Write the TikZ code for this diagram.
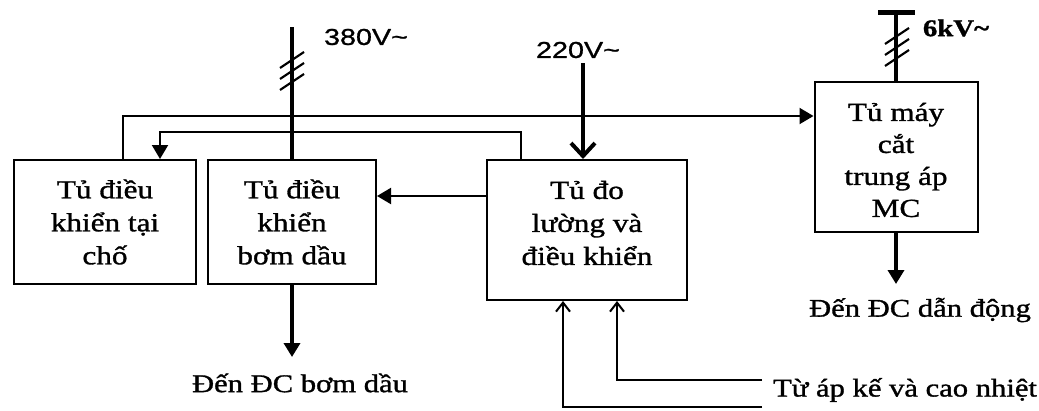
\documentclass[tikz,border=0pt]{standalone}
\usepackage{fontspec}
\setmainfont{Liberation Serif}[FakeStretch=1.2,FakeBold=1.2]
\newfontfamily\sansf{Liberation Sans}[FakeStretch=1.25,FakeBold=1]
\usetikzlibrary{arrows.meta}
\begin{document}
\begin{tikzpicture}[x=1pt,y=-1pt,
  box/.style={draw,line width=2pt,inner sep=0pt},
  txt/.style={align=center,font=\fontsize{26}{33}\selectfont,inner sep=0pt},
  lbl/.style={font=\fontsize{25.5}{30}\selectfont,inner sep=0pt},
  volt/.style={font=\sansf\fontsize{23}{26}\selectfont,inner sep=0pt},
  conn/.style={line width=2pt},
  thickc/.style={line width=4pt},
  fillarr/.style={-{Triangle[length=14pt,width=16pt]}},
  openarr/.style={-{Straight Barb[length=13pt,width=24pt,line width=4pt]}},
  smallarr/.style={-{Straight Barb[length=9pt,width=14pt,line width=2pt]}},
  hatch/.style={line width=2.2pt}
]
\useasboundingbox (0,0) rectangle (1039,410);

% boxes
\node[box,minimum width=182pt,minimum height=124pt] (b1) at (105,222) {};
\node[box,minimum width=168pt,minimum height=124pt] (b2) at (292,222) {};
\node[box,minimum width=200pt,minimum height=140pt] (b3) at (587,230) {};
\node[box,minimum width=163pt,minimum height=150pt] (b4) at (896,157) {};

% box texts
\node[txt] (t1) at (105,222) {Tủ điều\\khiển tại\\chố};
\node[txt] (t2) at (292,222) {Tủ điều\\khiển\\bơm dầu};
\node[txt] (t3) at (587,223) {Tủ đo\\lường và\\điều khiển};
\node[txt,font=\fontsize{26}{32}\selectfont] (t4) at (896,160) {Tủ máy\\cắt\\trung áp\\MC};

% supply labels
\node[volt] (v380) at (366,37) {380V\textasciitilde};
\node[volt] (v220) at (578,50) {220V\textasciitilde};
\node[lbl,font=\fontsize{24}{26}\selectfont\bfseries] (v6) at (956,28) {6kV\textasciitilde};

% output labels
\node[lbl] (o1) at (300,383) {Đến ĐC bơm dầu};
\node[lbl] (o2) at (920,310) {Đến ĐC dẫn động};
\node[lbl] (o3) at (905,390) {Từ áp kế và cao nhiệt};

% coordinates
\coordinate (p380) at (292,27);
\coordinate (p220) at (583,63);
\coordinate (p6) at (896,12);
\coordinate (p6l) at (878,12);
\coordinate (p6r) at (915,12);
\coordinate (r1) at (123,116);
\coordinate (r2) at (521,132);
\coordinate (r3) at (160,132);
\coordinate (r4) at (0,196);
\coordinate (e1) at (292,357);
\coordinate (e2) at (896,284);
\coordinate (i1) at (762,380);
\coordinate (i1c) at (617,380);
\coordinate (i2) at (762,407);
\coordinate (i2c) at (563,407);

% 380V supply
\draw[thickc] (p380) -- (b2.north);
\foreach \yy in {60,71,82}
  \draw[hatch] (280,\yy+8) -- (304,\yy-8);
% 220V supply
\draw[thickc,openarr] (p220) -- (p220 |- b3.north);
% 6kV supply
\draw[line width=5pt] (p6l) -- (p6r);
\draw[thickc] (p6) -- (b4.north);
\foreach \yy in {36,47,58}
  \draw[hatch] (885,\yy+8) -- (909,\yy-8);

% interconnections
\draw[conn,fillarr] (b1.north -| r1) -- (r1) -- (r1 -| b4.west);
\draw[conn,fillarr] (b3.north -| r2) -- (r2) -- (r3) -- (r3 |- b1.north);
\draw[conn,fillarr] (b3.west |- r4) -- (b2.east |- r4);

% outputs
\draw[thickc,fillarr] (b2.south) -- (e1);
\draw[thickc,fillarr] (b4.south) -- (e2);

% inputs
\draw[conn,smallarr] (i1) -- (i1c) -- (i1c |- b3.south);
\draw[conn,smallarr] (i2) -- (i2c) -- (i2c |- b3.south);
\end{tikzpicture}
\end{document}
